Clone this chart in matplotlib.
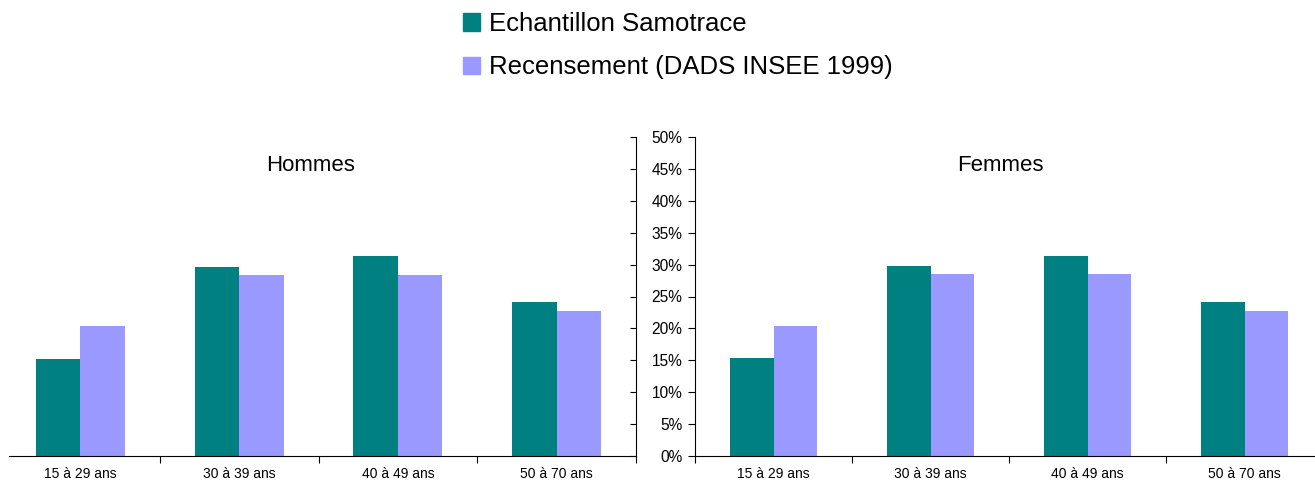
import matplotlib
matplotlib.use("Agg")
import matplotlib.pyplot as plt
import numpy as np
from matplotlib.patches import Patch
from matplotlib.ticker import FuncFormatter

categories = ["15 à 29 ans", "30 à 39 ans", "40 à 49 ans", "50 à 70 ans"]
hommes_samotrace = [15.2, 29.6, 31.3, 24.1]
hommes_dads = [20.4, 28.4, 28.4, 22.7]
femmes_samotrace = [15.3, 29.8, 31.3, 24.1]
femmes_dads = [20.4, 28.5, 28.5, 22.7]
series_names = ["Echantillon Samotrace", "Recensement (DADS INSEE 1999)"]
y_ticks = [0, 5, 10, 15, 20, 25, 30, 35, 40, 45, 50]

TEAL = "#008080"
LAVENDER = "#9999FF"

plt.rcParams.update({
    "font.family": ["Liberation Sans", "DejaVu Sans"],
    "axes.linewidth": 0.8,
})

W, H = 1315, 486
fig = plt.figure(figsize=(W / 100, H / 100), dpi=100)


def box(x0, x1, ybot, ytop):
    return [x0 / W, 1 - ybot / H, (x1 - x0) / W, (ybot - ytop) / H]


axl = fig.add_axes(box(1, 636, 456, 137))
axr = fig.add_axes(box(695, 1323, 456, 137))

x = np.arange(len(categories)) + 0.5
bw = 0.28

for ax, s1, s2, title in [
    (axl, hommes_samotrace, hommes_dads, "Hommes"),
    (axr, femmes_samotrace, femmes_dads, "Femmes"),
]:
    ax.bar(x - bw / 2, s1, bw, color=TEAL, linewidth=0)
    ax.bar(x + bw / 2, s2, bw, color=LAVENDER, linewidth=0)
    ax.set_xlim(0, 4)
    ax.set_ylim(0, 50)
    ax.set_xticks(x, minor=True)
    ax.set_xticklabels(categories, minor=True, fontsize=12)
    ax.tick_params(axis="x", which="minor", length=0, pad=8)
    ax.tick_params(axis="x", which="major", length=5, width=0.8,
                   direction="out")
    ax.spines["top"].set_visible(False)
    ax.text(0.487, 0.91, title, transform=ax.transAxes, ha="center",
            va="center", fontsize=16)

# left panel: only a right-hand axis with inward ticks, no labels
axl.set_xticks([1, 2, 3, 4])
axl.set_xticklabels([])
axl.spines["left"].set_visible(False)
axl.spines["bottom"].set_bounds(0.05, 4)
axl.yaxis.tick_right()
axl.set_yticks(y_ticks)
axl.set_yticklabels([])
axl.tick_params(axis="y", direction="in", length=4, width=0.8)

# right panel: y axis with percent labels
axr.set_xticks([0, 1, 2, 3, 4])
axr.set_xticklabels([])
axr.spines["right"].set_visible(False)
axr.set_yticks(y_ticks)
axr.yaxis.set_major_formatter(FuncFormatter(lambda v, p: f"{v:.0f}%"))
axr.tick_params(axis="y", direction="out", length=5, width=0.8,
                labelsize=11.2, pad=4)

handles = [Patch(color=TEAL), Patch(color=LAVENDER)]
fig.legend(handles, series_names, loc="upper left",
           bbox_to_anchor=(463 / W, 1 - 12 / H), frameon=False,
           fontsize=18.5, handlelength=0.65, handleheight=0.65,
           handletextpad=0.35, labelspacing=0.75, borderpad=0,
           borderaxespad=0)

fig.savefig("out.png", dpi=100)
